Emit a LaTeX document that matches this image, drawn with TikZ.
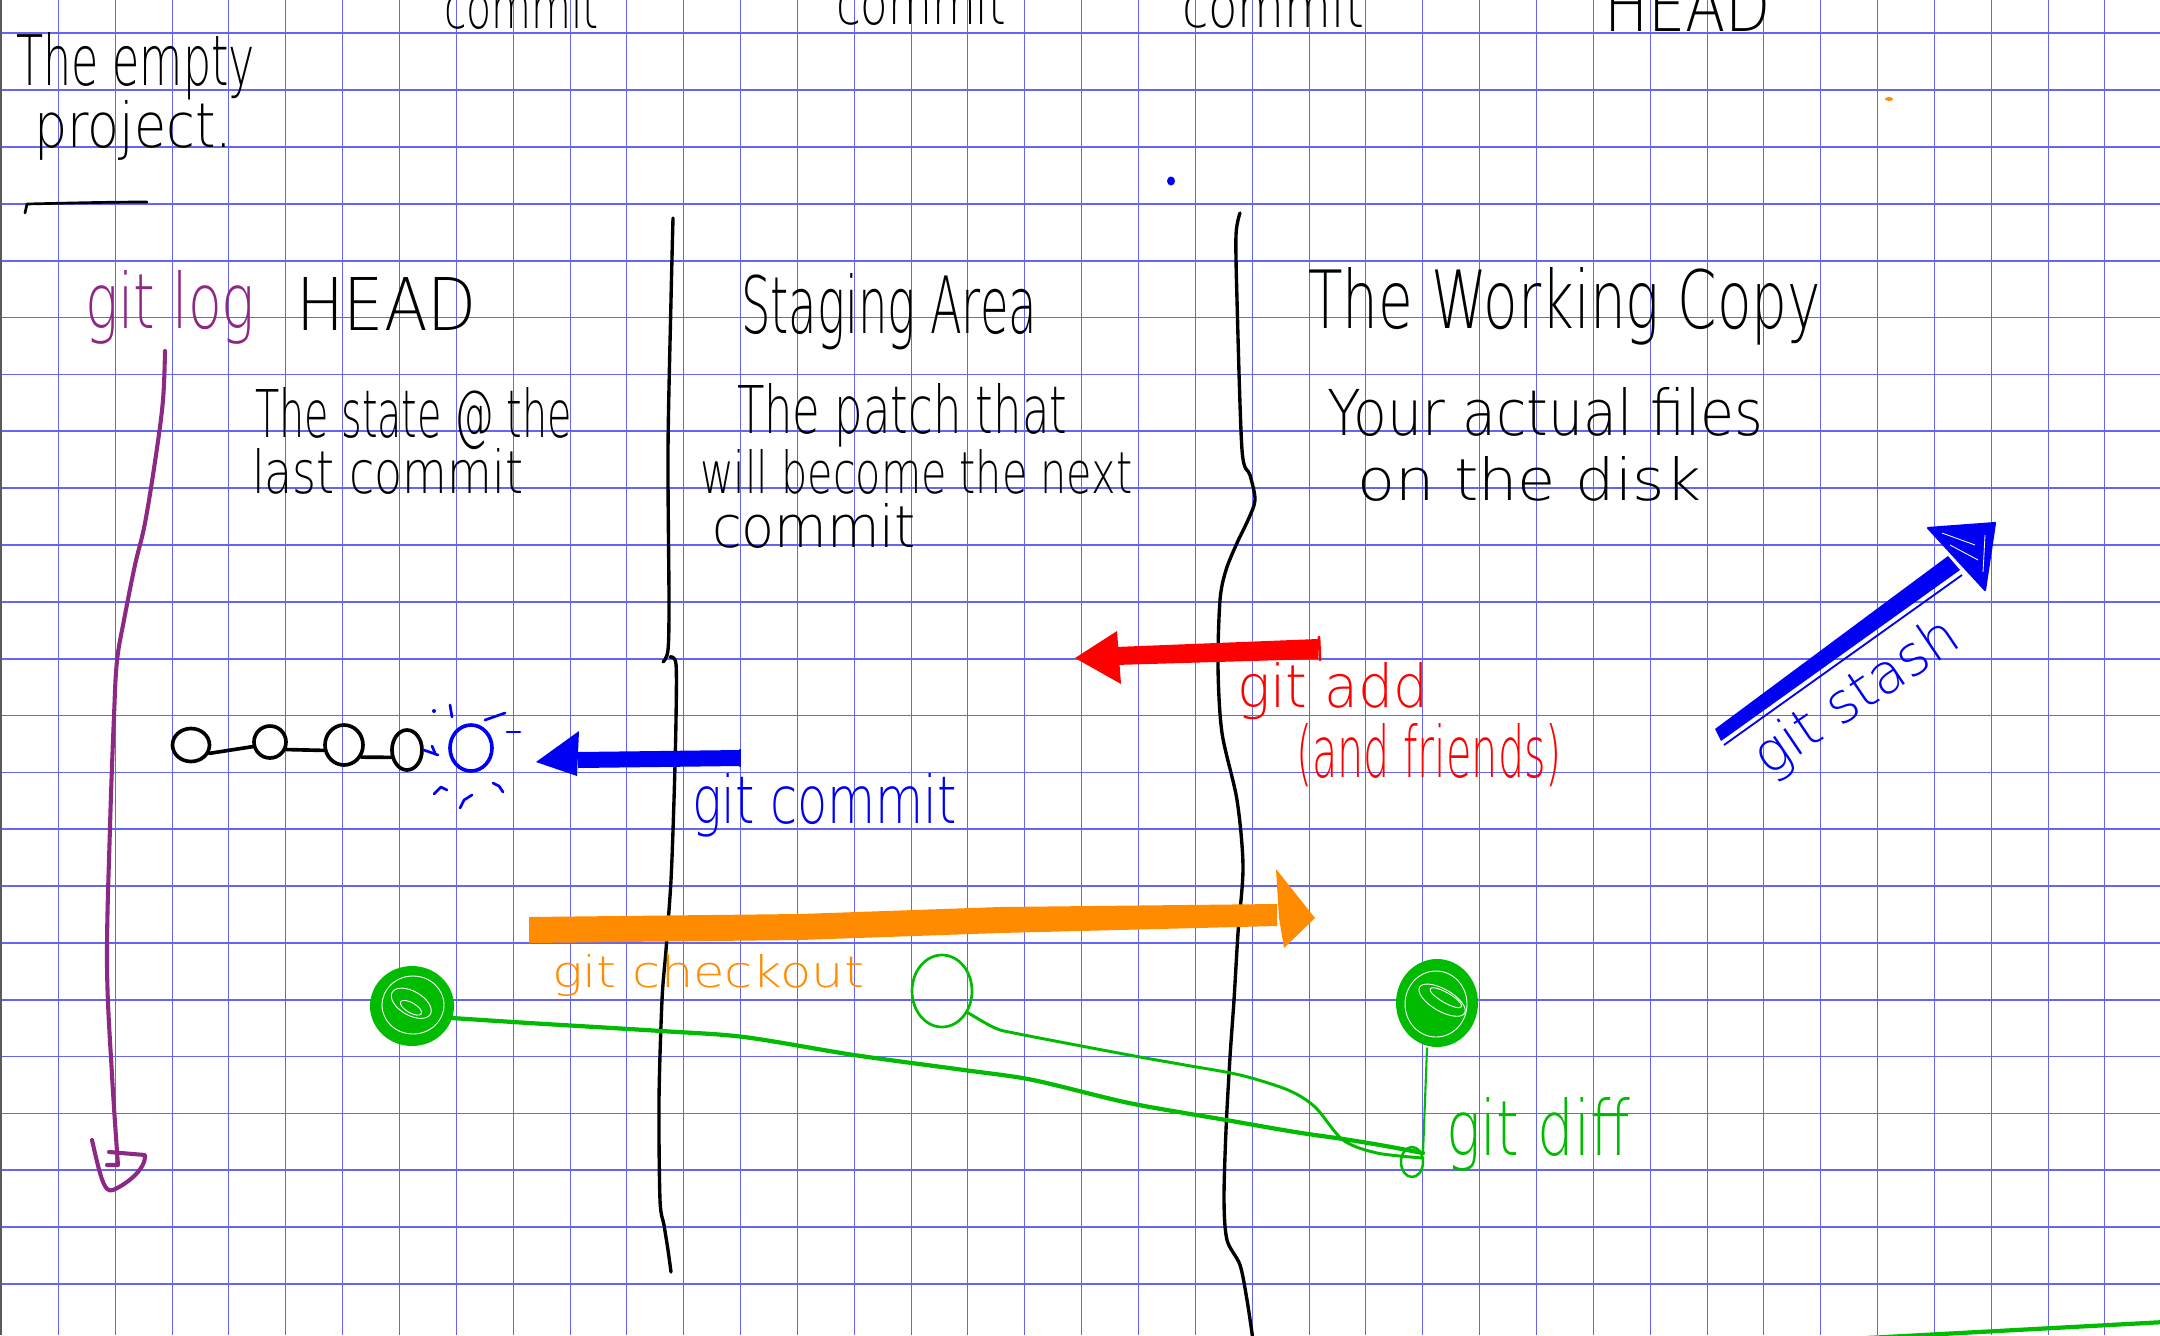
\documentclass[tikz,border=0pt]{standalone}
\usepackage{fontspec}
\IfFontExistsTF{DejaVu Sans ExtraLight}{\setmainfont{DejaVu Sans ExtraLight}}{\setmainfont{PT Sans}}
\usetikzlibrary{shapes.geometric}
\definecolor{gridblue}{RGB}{100,100,245}
\definecolor{inkpurple}{RGB}{140,41,132}
\definecolor{inkgreen}{RGB}{0,187,0}
\definecolor{inkorange}{RGB}{255,140,0}
\definecolor{inkred}{RGB}{255,0,0}
\definecolor{inkblue}{RGB}{0,0,245}
\definecolor{edgegray}{RGB}{90,90,90}
\newlength\pxu
\setlength\pxu{0.05cm}
% handwritten-looking label squeezed into a given width and height (in px units)
\newcommand\hw[3]{\resizebox{#1\pxu}{#2\pxu}{#3}}

\begin{document}
\begin{tikzpicture}[x=0.05cm,y=-0.05cm,
  vgrid/.style={draw=gridblue,line width=1.4pt},
  hgrid/.style={draw=gridblue,line width=2.4pt},
  ink/.style={line width=5.2pt,line cap=round,line join=round},
  thinink/.style={line width=3.8pt,line cap=round,line join=round},
  divider/.style={draw=black,line width=4.8pt,line cap=round,line join=round},
  hand/.style={inner sep=0pt,outer sep=0pt,anchor=base west},
  commitdot/.style={ellipse,draw=black,ink,inner sep=0pt},
]
\useasboundingbox (0,0) rectangle (2160,1335);
\clip (0,0) rectangle (2160,1335);
\fill[white] (0,0) rectangle (2160,1335);

% squared paper
\foreach \k in {1,...,37} \draw[vgrid] ({1.5+56.85*\k},0) -- ({1.5+56.85*\k},1335);
\foreach \k in {0,...,22} \draw[hgrid] (0,{33.3+56.85*\k}) -- (2160,{33.3+56.85*\k});
\draw[edgegray,line width=2.8pt] (1,0) -- (1,1335);

% column captions cut by the top edge
\node[hand] (c1) at (444,28) {\hw{155}{45}{commit}};
\node[hand] (c2) at (836,24) {\hw{170}{45}{commit}};
\node[hand] (c3) at (1182,27) {\hw{182}{45}{commit}};
\node[hand] (hd) at (1604,31) {\hw{167}{53}{HEAD}};

% title
\node[hand] (t1) at (16,85) {\hw{239}{53}{The empty}};
\node[hand] (t2) at (34,147) {\hw{198}{47}{project.}};
\draw[thinink] (25,213) -- (27,204) .. controls (70,203) and (110,202) .. (147,202);

% column separators
\draw[divider] plot[smooth,tension=0.5] coordinates {(673,218) (671,300) (668,450) (669,600) (668,650) (663,662)};
\draw[divider] plot[smooth,tension=0.5] coordinates {(670,657) (676,664) (676,720) (674,800) (671,880) (666,950) (662,1000) (659,1100) (660,1200) (664,1225) (668,1250) (671,1272)};
\draw[divider] plot[smooth,tension=0.5] coordinates {(1240,213) (1236,235) (1237,300) (1242,450) (1250,475) (1255,500) (1248,520) (1237,543) (1226,570) (1220,600) (1218,667) (1222,733) (1237,800) (1243,867) (1238,933) (1234,1000) (1230,1057) (1226,1130) (1224,1200) (1227,1240) (1240,1265) (1247,1300) (1253,1340)};

% headings and descriptions
\node[hand,text=inkpurple] (glog) at (85,328) {\hw{170}{58}{git log}};
\node[hand] (head) at (296,330) {\hw{181}{53}{HEAD}};
\node[hand] (s1) at (255,437) {\hw{317}{50}{The state @ the}};
\node[hand] (s2) at (252,493) {\hw{271}{45}{last commit}};
\node[hand] (stg) at (741,333) {\hw{296}{60}{Staging Area}};
\node[hand] (p1) at (737,433) {\hw{330}{50}{The patch that}};
\node[hand] (p2) at (700,493) {\hw{432}{44}{will become the next}};
\node[hand] (p3) at (712,547) {\hw{204}{44}{commit}};
\node[hand] (wc) at (1308,328) {\hw{513}{61}{The Working Copy}};
\node[hand] (f1) at (1327,435) {\hw{436}{48}{Your actual files}};
\node[hand] (f2) at (1357,500) {\hw{344}{44}{on the disk}};

% stray dots
\fill[inkblue] (1171,181) ellipse [x radius=4, y radius=4.5];
\fill[inkorange] (1889,99) ellipse [x radius=4, y radius=2];

% git log arrow
\draw[ink,inkpurple,line width=5.8pt] plot[smooth,tension=0.6] coordinates {(165,351) (163,400) (156,455) (145,523) (135,565) (124,620) (117,661) (114,716) (110,827) (107,964) (112,1075) (118,1165)} -- (107,1165);
\draw[ink,inkpurple,line width=5.8pt] (92,1140) .. controls (100,1175) and (104,1194) .. (113,1190) .. controls (125,1185) and (146,1170) .. (145,1155) -- (109,1152);

% commit history
\node[commitdot,minimum width=1.85cm,minimum height=1.65cm] (k1) at (191,745) {};
\node[commitdot,minimum width=1.6cm,minimum height=1.6cm] (k2) at (270,742) {};
\node[commitdot,minimum width=1.9cm,minimum height=2.0cm] (k3) at (344,745) {};
\node[commitdot,minimum width=1.5cm,minimum height=2.0cm] (k4) at (407,750) {};
\node[commitdot,draw=inkblue,minimum width=2.1cm,minimum height=2.3cm] (k5) at (471,748) {};
\draw[ink] (k1.-25) -- (k2.195);
\draw[ink] (k2.-25) -- (k3.195);
\draw[ink] (k3.-35) -- (k4.205);
\begin{scope}[thinink,inkblue]
  \draw (k4.east) -- (438,755);
  \draw (432,746) -- (435,753);
  \draw (450,705) -- (452,717);
  \fill (434,711) circle [radius=2];
  \draw (485,720) -- (505,713);
  \draw (507,732) -- (520,732);
  \draw (434,794) -- (441,787) -- (447,790);
  \draw (460,808) -- (464,800) -- (472,795);
  \draw (493,783) -- (499,786) -- (503,792);
\end{scope}

% git commit
\coordinate (bcTail) at (740,758);
\fill[inkblue] (578,752) -- (740,750) -- (740,766) -- (578,768) -- cycle;
\fill[inkblue] (536,762) -- (579,731) -- (577,776) -- cycle;
\draw[thinink,inkblue] (bcTail) ++(0,-8) -- ++(0,16);
\node[hand,text=inkblue] (tcommit) at (692,823) {\hw{265}{50}{git commit}};

% git add
\fill[inkred] (1115,647) -- (1318,639) -- (1318,659) -- (1115,665) -- cycle;
\fill[inkred] (1075,658) -- (1117,631) -- (1121,684) -- cycle;
\draw[thinink,inkred] (1319,637) -- (1320,660);
\node[hand,text=inkred] (tadd) at (1237,707) {\hw{192}{45}{git add}};
\node[hand,text=inkred] (tfriends) at (1296,777) {\hw{266}{54}{(and friends)}};

% git checkout
\fill[inkorange] (529,917) -- (800,914) -- (1000,907) -- (1277,904) -- (1277,926) -- (1000,933) -- (800,940) -- (529,943) -- cycle;
\fill[inkorange] (1276,869) -- (1315,918) -- (1284,948) -- (1279,918) -- cycle;
\node[hand,text=inkorange] (tcheckout) at (552,987) {\hw{312}{33}{git checkout}};

% git stash
\fill[inkblue] (1715,729) -- (1721,741) -- (1960,570) -- (1948,556) -- cycle;
\draw[inkblue,line width=2.6pt] (1724,745) -- (1962,575);
\fill[inkblue] (1928,528) -- (1995,523) -- (1985,590) -- cycle;
\draw[inkblue,line width=3pt,line join=round] (1928,528) -- (1995,523) -- (1985,590) -- cycle;
\draw[white,line width=1.2pt] (1942,533) -- (1975,545) (1950,545) -- (1978,560) (1985,535) -- (1983,572);
\node[hand,text=inkblue,rotate=34] (tstash) at (1768,777) {\hw{236}{42}{git stash}};

% git diff
\node[circle,inner sep=0pt,minimum size=4cm] (g1) at (412,1006) {};
\node[ellipse,draw=inkgreen,thinink,inner sep=0pt,minimum width=3cm,minimum height=3.6cm] (g2) at (942,991) {};
\node[circle,inner sep=0pt,minimum size=4.1cm] (g3) at (1437,1003) {};
\fill[inkgreen] (412,1006) ellipse [x radius=42, y radius=40];
\fill[inkgreen] (1437,1003) ellipse [x radius=41, y radius=44];
\begin{scope}[white,line width=1.3pt]
  \draw (413,1005) ellipse [x radius=31, y radius=29];
  \draw[rotate around={-30:(412,1006)}] (410,1004) ellipse [x radius=22, y radius=12];
  \draw[rotate around={-30:(412,1006)}] (412,1008) ellipse [x radius=12, y radius=5];
  \draw (1436,1004) ellipse [x radius=31, y radius=33];
  \draw[rotate around={-30:(1437,1003)}] (1440,998) ellipse [x radius=26, y radius=11];
  \draw[rotate around={-30:(1437,1003)}] (1442,994) ellipse [x radius=18, y radius=5];
\end{scope}
\coordinate (dp) at (1423,1153);
\draw[inkgreen,line width=3pt,line cap=round] (g3.south) ++(-10,4) -- (dp);
\draw[inkgreen,line width=6pt,line cap=round] plot[smooth,tension=0.5] coordinates {(452,1018) (529,1023) (661,1031) (744,1037) (854,1055) (964,1070) (1033,1080) (1129,1103) (1226,1120) (1295,1132) (1343,1139) (1380,1145) (1423,1153)};
\draw[inkgreen,line width=4.2pt,line cap=round] plot[smooth,tension=0.5] coordinates {(g2.-40) (995,1028) (1019,1034) (1129,1055) (1185,1065) (1240,1075) (1288,1090) (1315,1107) (1343,1140) (1377,1153) (1423,1158)};
\draw[inkgreen,line width=3.6pt] (1412,1162) ellipse [x radius=11, y radius=15];
\node[hand,text=inkgreen] (tdiff) at (1446,1155) {\hw{184}{58}{git diff}};
\draw[inkgreen,line width=6pt,line cap=round] (1867,1338) -- (2165,1322);
\end{tikzpicture}
\end{document}
